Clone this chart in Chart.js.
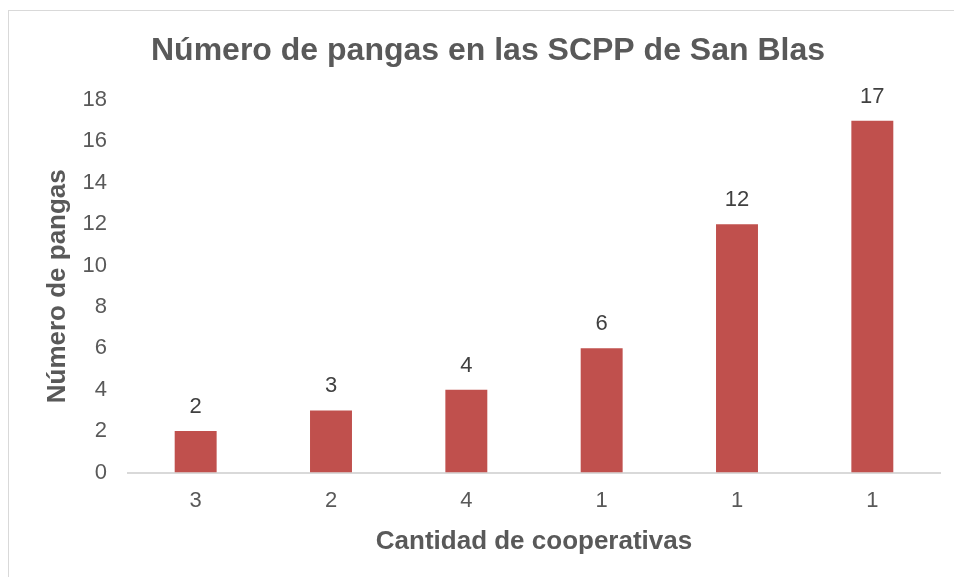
<!DOCTYPE html>
<html lang="es">
<head>
<meta charset="utf-8">
<title>Número de pangas en las SCPP de San Blas</title>
<script src="https://cdn.jsdelivr.net/npm/chart.js@4/dist/chart.umd.min.js"></script>
<style>
  html, body { margin: 0; padding: 0; background: #fff; overflow: hidden; }
  #wrap { position: relative; width: 954px; height: 577px; }
  #frame {
    position: absolute; left: 8px; top: 10px; width: 980px; height: 600px;
    border: 1px solid #d9d9d9; box-sizing: border-box; pointer-events: none;
  }
  canvas { position: absolute; left: 0; top: 0; }
</style>
</head>
<body>
<div id="wrap">
  <div id="frame"></div>
  <canvas id="chart" width="954" height="577"></canvas>
</div>
<script>
// Cooperatives count per group (x labels) and boats per group
const categories = ["3", "2", "4", "1", "1", "1"];
const pangas = [2, 3, 4, 6, 12, 17];
const yTicks = [0, 2, 4, 6, 8, 10, 12, 14, 16, 18];

const FONT = "'Liberation Sans', Arial, sans-serif";
const GREY = "#595959";

// Value labels drawn above each bar
const barLabels = {
  id: "barLabels",
  afterDatasetsDraw(chart) {
    const ctx = chart.ctx;
    const meta = chart.getDatasetMeta(0);
    ctx.save();
    ctx.font = "22px " + FONT;
    ctx.fillStyle = "#404040";
    ctx.textAlign = "center";
    ctx.textBaseline = "middle";
    meta.data.forEach((bar, i) => {
      ctx.fillText(String(pangas[i]), bar.x, bar.y - 24);
    });
    ctx.restore();
  },
};

new Chart(document.getElementById("chart"), {
  type: "bar",
  data: {
    labels: categories,
    datasets: [{
      data: pangas,
      backgroundColor: "#C0504D",
      borderWidth: 0,
      barPercentage: 0.31,
      categoryPercentage: 1,
    }],
  },
  options: {
    responsive: false,
    animation: false,
    events: [],
    layout: { padding: { left: 36, right: 14, top: 0, bottom: 10 } },
    plugins: {
      legend: { display: false },
      tooltip: { enabled: false },
      title: {
        display: true,
        text: "Número de pangas en las SCPP de San Blas",
        color: GREY,
        font: { family: FONT, size: 32, weight: "bold" },
        padding: { top: 32, bottom: 29.6 },
      },
    },
    scales: {
      x: {
        grid: { display: false, drawTicks: false },
        border: { display: true, color: "#d9d9d9", width: 2 },
        ticks: {
          color: GREY,
          font: { family: FONT, size: 22 },
          padding: 15,
          maxRotation: 0,
        },
        title: {
          display: true,
          text: "Cantidad de cooperativas",
          color: GREY,
          font: { family: FONT, size: 26, weight: "bold" },
          padding: { top: 0, bottom: 10 },
        },
        afterFit(scale) { scale.height = 94.5; },
      },
      y: {
        min: 0,
        max: 18,
        grid: { display: false, drawTicks: false },
        border: { display: false },
        afterBuildTicks(scale) { scale.ticks = yTicks.map(v => ({ value: v })); },
        ticks: {
          color: GREY,
          font: { family: FONT, size: 22 },
          padding: 21,
        },
        title: {
          display: true,
          text: "Número de pangas",
          color: GREY,
          font: { family: FONT, size: 26, weight: "bold" },
          padding: { top: 6, bottom: 0 },
        },
        afterFit(scale) { scale.width = 92; },
      },
    },
  },
  plugins: [barLabels],
});
</script>
</body>
</html>
